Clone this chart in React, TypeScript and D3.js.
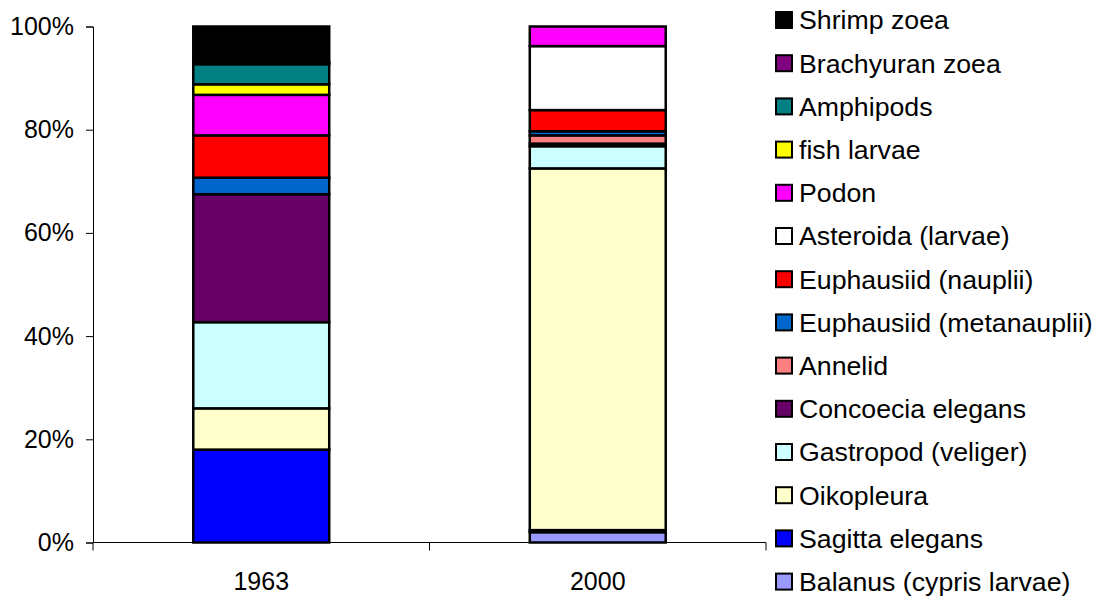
import React, { useEffect, useRef } from 'react';
import * as d3 from 'd3';

// categories on the x axis
const years = ['1963', '2000'];

// series, bottom of stack first
const seriesNames = [
  'Balanus (cypris larvae)',
  'Sagitta elegans',
  'Oikopleura',
  'Gastropod (veliger)',
  'Concoecia elegans',
  'Annelid',
  'Euphausiid (metanauplii)',
  'Euphausiid (nauplii)',
  'Asteroida (larvae)',
  'Podon',
  'fish larvae',
  'Amphipods',
  'Brachyuran zoea',
  'Shrimp zoea',
];

const seriesColors = [
  '#9999FF', '#0000FF', '#FFFFCC', '#CCFFFF', '#660066', '#FF8080', '#0066CC',
  '#FF0000', '#FFFFFF', '#FF00FF', '#FFFF00', '#008080', '#800080', '#000000',
];

// percentage share per series, same order as seriesNames
const values1963 = [0, 18.0, 8.0, 16.7, 24.8, 0, 3.2, 8.2, 0, 7.85, 2.05, 3.9, 0.3, 7.0];
const values2000 = [2.0, 0.4, 70.1, 4.3, 0.5, 1.6, 0.8, 4.1, 12.4, 3.8, 0, 0, 0, 0];

const yTicks = [0, 0.2, 0.4, 0.6, 0.8, 1.0];

function StackedChart() {
  const ref = useRef<SVGSVGElement | null>(null);

  useEffect(() => {
    if (!ref.current) return;
    const width = 1099;
    const height = 596;
    const font = '"Liberation Sans", Arial, sans-serif';

    const root = d3.select(ref.current);
    root.selectAll('*').remove();
    root.attr('width', width).attr('height', height);

    const rows = years.map((yr, i) => {
      const vals = i === 0 ? values1963 : values2000;
      const row: any = { year: yr };
      seriesNames.forEach((s, j) => (row[s] = vals[j] / 100));
      return row;
    });

    const stacked = d3.stack<any>().keys(seriesNames)(rows);

    const x = d3.scaleBand()
      .domain(years)
      .range([93, 766])
      .paddingInner(0.596)
      .paddingOuter(0.298);

    const y = d3.scaleLinear().domain([0, 1]).range([542.5, 26.5]);

    // bars
    root.append('g')
      .selectAll('g')
      .data(stacked)
      .join('g')
      .attr('fill', (d, i) => seriesColors[i])
      .selectAll('rect')
      .data((d) => d.filter((p) => p[1] - p[0] > 0))
      .join('rect')
      .attr('x', (d: any) => x(d.data.year)!)
      .attr('width', x.bandwidth())
      .attr('y', (d) => y(d[1]))
      .attr('height', (d) => y(d[0]) - y(d[1]))
      .attr('stroke', '#000')
      .attr('stroke-width', 2.5);

    // y axis
    const yAxis = root.append('g')
      .attr('transform', 'translate(93,0)')
      .call(d3.axisLeft(y).tickValues(yTicks).tickFormat(d3.format('.0%')).tickSize(7).tickPadding(12));
    yAxis.select('.domain').attr('stroke', '#000');
    yAxis.selectAll('line').attr('stroke', '#000');
    yAxis.selectAll('text')
      .style('font-family', font)
      .style('font-size', '25px')
      .attr('fill', '#000');

    // x axis, with ticks between the categories
    const xAxis = root.append('g').attr('transform', `translate(0,${y(0)})`);
    xAxis.append('line')
      .attr('x1', 93).attr('x2', 766)
      .attr('stroke', '#000');
    const edges = [93, 93 + x.step(), 93 + 2 * x.step()];
    xAxis.selectAll('.tk')
      .data(edges)
      .join('line')
      .attr('class', 'tk')
      .attr('x1', (d) => d).attr('x2', (d) => d)
      .attr('y1', 0).attr('y2', 8)
      .attr('stroke', '#000');
    xAxis.selectAll('text')
      .data(years)
      .join('text')
      .attr('x', (d) => x(d)! + x.bandwidth() / 2)
      .attr('y', 47)
      .attr('text-anchor', 'middle')
      .style('font-family', font)
      .style('font-size', '25px')
      .text((d) => d);

    // legend, top item = top of stack
    const legendItems = seriesNames.map((s, i) => ({ name: s, color: seriesColors[i] })).reverse();
    const legend = root.append('g');
    const item = legend.selectAll('g')
      .data(legendItems)
      .join('g')
      .attr('transform', (d, i) => `translate(776,${20 + i * 43.2})`);
    item.append('rect')
      .attr('x', 0).attr('y', -8)
      .attr('width', 16).attr('height', 16)
      .attr('fill', (d) => d.color)
      .attr('stroke', '#000')
      .attr('stroke-width', 2);
    item.append('text')
      .attr('x', 23)
      .attr('dy', '0.35em')
      .style('font-family', font)
      .style('font-size', '26.7px')
      .text((d) => d.name);
  }, []);

  return <svg ref={ref} style={{ position: 'absolute', left: 0, top: 0 }} />;
}

export default function App() {
  return <StackedChart />;
}
